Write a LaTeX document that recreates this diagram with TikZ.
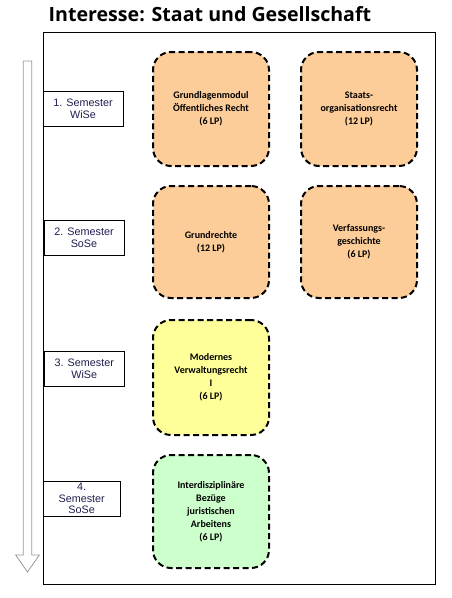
\documentclass[tikz,border=0pt]{standalone}
\usepackage{fontspec}
\setmainfont{Carlito}
\newfontfamily\arialfont{Liberation Sans}
\newfontfamily\titlefont{Open Sans}
\definecolor{semblue}{RGB}{30,30,80}
\definecolor{modorange}{RGB}{252,204,153}
\definecolor{modyellow}{RGB}{255,255,153}
\definecolor{modgreen}{RGB}{204,255,204}
\tikzset{
  sembox/.style={draw=black, line width=0.8pt, fill=white, inner sep=0pt,
    minimum width=80pt, minimum height=35pt, align=center, text=semblue,
    font=\arialfont\fontsize{10.8}{11.8}\selectfont},
  modbox/.style={draw=black, line width=2pt, dash pattern=on 6pt off 3.5pt,
    rounded corners=18pt, minimum width=116pt, minimum height=114pt,
    inner sep=0pt, align=center, font=\bfseries\fontsize{10}{13}\selectfont}
}
\begin{document}
\begin{tikzpicture}[x=1pt,y=-1pt]
   \useasboundingbox (0,0) rectangle (451,598);
   \node[anchor=base west, inner sep=0pt, font=\titlefont\bfseries\fontsize{19.6}{22}\selectfont] (title) at (48.5,21.8) {Interesse: Staat und Gesellschaft};
   \draw[line width=0.8pt] (43,32.5) rectangle (435.5,584);
   \draw[gray!80, line width=0.8pt, fill=white] (23.3,61) -- (31.7,61) -- (31.7,555) -- (39.3,555) -- (27.5,572) -- (15.7,555) -- (23.3,555) -- cycle;
   \node[sembox] (sem1) at (83,108.5) {1. Semester\\WiSe};
   \node[sembox] (sem2) at (84,238) {2. Semester\\SoSe};
   \node[sembox] (sem3) at (84.3,368.5) {3. Semester\\WiSe};
   \node[sembox, minimum width=77pt] (sem4) at (81.7,498.5) {4.\\Semester\\SoSe};
   \node[modbox, fill=modorange] (grundlagen) at (211,109) {Grundlagenmodul\\Öffentliches Recht\\(6 LP)};
   \node[modbox, fill=modorange] (staatsorg) at (359,109) {Staats-\\organisationsrecht\\(12 LP)};
   \node[modbox, fill=modorange, minimum height=112pt] (grundrechte) at (211,242) {Grundrechte\\(12 LP)};
   \node[modbox, fill=modorange, minimum height=112pt] (verfgesch) at (359,242) {Verfassungs-\\geschichte\\(6 LP)};
   \node[modbox, fill=modyellow, minimum height=115pt] (verwaltung) at (211,377.5) {Modernes\\Verwaltungsrecht\\I\\(6 LP)};
   \node[modbox, fill=modgreen, minimum height=113pt] (interdis) at (211,511.5) {Interdisziplinäre\\Bezüge\\juristischen\\Arbeitens\\(6 LP)};
\end{tikzpicture}
\end{document}
